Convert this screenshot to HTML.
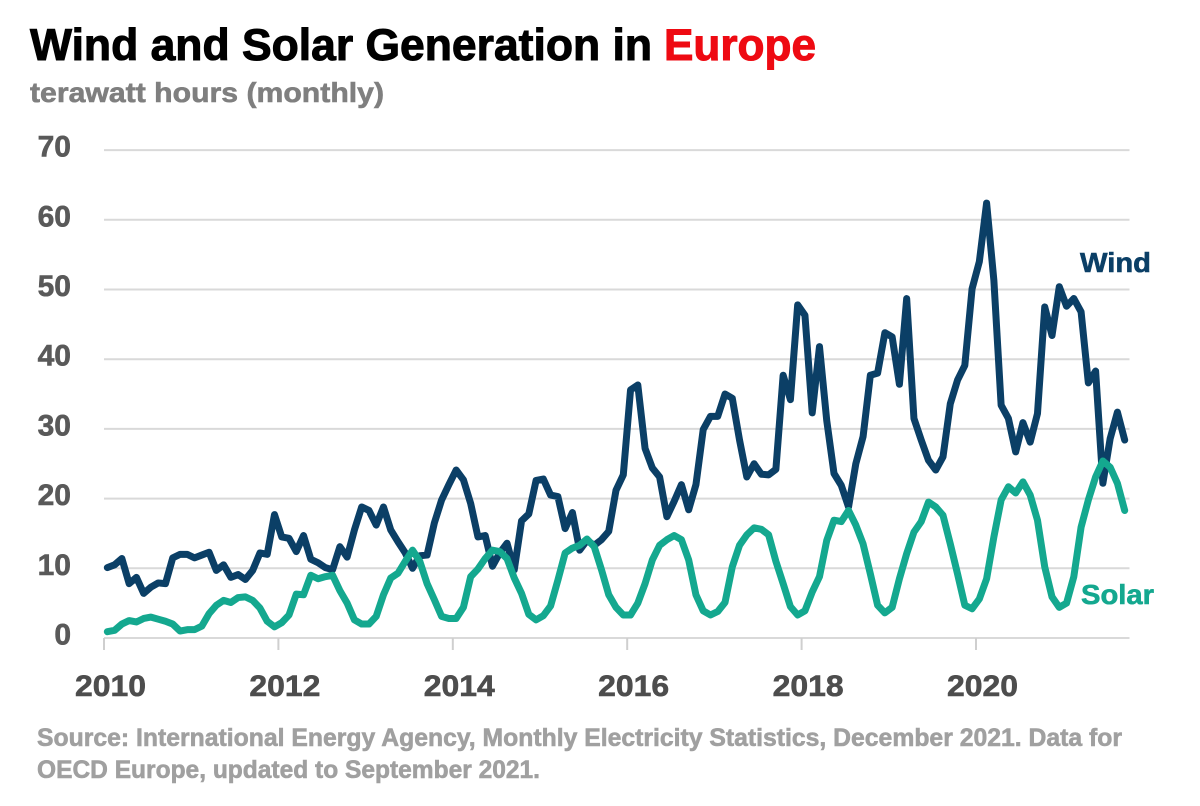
<!DOCTYPE html>
<html lang="en">
<head>
<meta charset="utf-8">
<title>Wind and Solar Generation in Europe</title>
<style>
html,body{margin:0;padding:0;background:#fff;width:1200px;height:806px;overflow:hidden}
svg{display:block}
text{font-family:"Liberation Sans",sans-serif;font-weight:bold;stroke-width:0.6px;paint-order:stroke}
</style>
</head>
<body>
<svg id="chart" width="1200" height="806" viewBox="0 0 1200 806">
  <text x="30" y="60" font-size="44.5" fill="#000" stroke="#000" style="stroke-width:1px" textLength="622" lengthAdjust="spacingAndGlyphs">Wind and Solar Generation in</text>
  <text x="664" y="60" font-size="44.5" fill="#ee0a12" stroke="#ee0a12" style="stroke-width:1px" textLength="152" lengthAdjust="spacingAndGlyphs">Europe</text>
  <text x="30" y="102" font-size="28" fill="#7f7f7f" stroke="#7f7f7f" textLength="354" lengthAdjust="spacingAndGlyphs">terawatt hours (monthly)</text>
  <g id="grid"></g>
  <g id="yticks"></g>
  <g id="xticks"></g>
  <g id="lines"></g>
  <text x="1080" y="272" font-size="28" fill="#0b3f66" stroke="#0b3f66" textLength="71" lengthAdjust="spacingAndGlyphs">Wind</text>
  <text x="1081" y="604" font-size="28" fill="#14a88f" stroke="#14a88f" textLength="73" lengthAdjust="spacingAndGlyphs">Solar</text>
  <text x="37" y="746" font-size="25" fill="#a0a0a0" stroke="#a0a0a0" textLength="1085" lengthAdjust="spacingAndGlyphs">Source: International Energy Agency, Monthly Electricity Statistics, December 2021. Data for</text>
  <text x="37" y="778" font-size="25" fill="#a0a0a0" stroke="#a0a0a0" textLength="503" lengthAdjust="spacingAndGlyphs">OECD Europe, updated to September 2021.</text>
</svg>
<script>
const yTicks = [0, 10, 20, 30, 40, 50, 60, 70];
const xYears = [2010, 2012, 2014, 2016, 2018, 2020];
const windValues = [
10.1,10.5,11.4,7.8,8.7,6.4,7.3,7.9,7.8,11.5,12,12,
11.5,11.9,12.3,9.7,10.5,8.7,9.1,8.4,9.7,12.2,12,17.7,
14.5,14.3,12.4,14.7,11.3,10.8,10.1,9.8,13.1,11.6,15.5,18.8,
18.3,16.2,18.8,15.5,13.8,12.2,10,11.8,11.9,16.5,19.8,22,
24.1,22.7,19.3,14.5,14.7,10.3,12.2,13.6,9.8,16.8,17.8,22.6,
22.8,20.5,20.3,15.7,18,12.6,14,13.3,14.1,15.3,21.2,23.4,
35.6,36.3,27.2,24.4,23.1,17.4,19.6,22,18.4,22,29.9,31.8,
31.8,35,34.4,28.4,23.1,25,23.5,23.4,24.2,37.7,34.2,47.8,
46.3,32.3,41.8,31.2,23.6,21.9,18.8,25,28.9,37.7,38,43.8,
43.2,36.4,48.7,31.5,28.4,25.5,24.1,26,33.6,37,39.1,50.1,
54,62.4,51.3,33.4,31.5,26.7,30.9,28.1,32.2,47.5,43.4,50.4,
47.6,48.7,46.8,36.6,38.3,22.2,28.6,32.4,28.4];
const solarValues = [
0.9,1.1,2,2.5,2.3,2.8,3,2.7,2.4,2,1,1.2,
1.2,1.7,3.5,4.7,5.4,5.1,5.8,5.9,5.4,4.3,2.4,1.6,
2.2,3.3,6.3,6.2,9,8.5,8.8,9,6.8,5,2.6,2,
2,3.1,6.2,8.6,9.3,11,12.6,11,7.8,5.5,3.1,2.8,
2.8,4.4,8.8,9.9,11.4,12.6,12.4,11.4,8.6,6.4,3.4,2.6,
3.2,4.6,8.3,12.2,12.9,13.3,14.2,13.1,9.8,6.2,4.4,3.3,
3.3,5,7.8,11.2,13.3,14.1,14.7,14.1,11.2,6.2,3.9,3.3,
3.8,5.1,10.2,13.3,14.8,15.8,15.6,14.8,11,7.8,4.5,3.3,
3.9,6.6,8.8,14,16.9,16.7,18.3,16.2,13.5,9.2,4.7,3.6,
4.4,8.5,12.1,15.2,16.7,19.5,18.8,17.6,13.5,9.2,4.7,4.2,
5.6,8.5,14.5,19.8,21.7,20.8,22.4,20.5,16.9,10.2,5.9,4.4,
5,8.8,15.9,19.8,23.1,25.4,24.5,22.2,18.3];

const NS = 'http://www.w3.org/2000/svg';
const plotLeft = 104, plotRight = 1129.5, y0 = 638, pxPerUnit = 6.97, pxPerYear = 87.2;
function xYear(year) { return plotLeft + (year - 2010) * pxPerYear; }
function xMonth(i) { return xYear(2010 + (i + 0.46) / 12); }
function yVal(v) { return y0 - v * pxPerUnit; }
function make(tag, attrs, text) {
  const el = document.createElementNS(NS, tag);
  for (const k in attrs) el.setAttribute(k, attrs[k]);
  if (text !== undefined) el.textContent = text;
  return el;
}
const grid = document.getElementById('grid');
const yLabels = document.getElementById('yticks');
const xAxis = document.getElementById('xticks');
const lines = document.getElementById('lines');

yTicks.forEach(function (t) {
  const gl = make('line', {x1: plotLeft, x2: plotRight, y1: yVal(t), y2: yVal(t), stroke: '#d9d9d9', 'stroke-width': 2});
  
  
  grid.appendChild(gl);
  const lb = make('text', {x: 71, y: yVal(t) + 6.5, 'text-anchor': 'end', 'font-size': 30, fill: '#595959', stroke: '#595959'}, String(t));
  
  
  yLabels.appendChild(lb);
});
xYears.forEach(function (yr) {
  const tk = make('line', {x1: xYear(yr), x2: xYear(yr), y1: y0, y2: y0 + 12, stroke: '#cfcfcf', 'stroke-width': 2});
  
  
  xAxis.appendChild(tk);
  const lb = make('text', {x: xYear(yr) - 29, y: 696, 'font-size': 30, fill: '#4d4d4d', stroke: '#4d4d4d', textLength: 71, lengthAdjust: 'spacingAndGlyphs'}, String(yr));
  
  
  xAxis.appendChild(lb);
});
function pathFor(vals) {
  return vals.map(function (v, i) {
    return (i ? 'L' : 'M') + xMonth(i).toFixed(2) + ' ' + yVal(v).toFixed(2);
  }).join('');
}
const windLine = make('path', {d: pathFor(windValues), fill: 'none', stroke: '#0b3f66', 'stroke-width': 7, 'stroke-linejoin': 'round', 'stroke-linecap': 'round'});


lines.appendChild(windLine);
const solarLine = make('path', {d: pathFor(solarValues), fill: 'none', stroke: '#14a88f', 'stroke-width': 7, 'stroke-linejoin': 'round', 'stroke-linecap': 'round'});


lines.appendChild(solarLine);
</script>
</body>
</html>
